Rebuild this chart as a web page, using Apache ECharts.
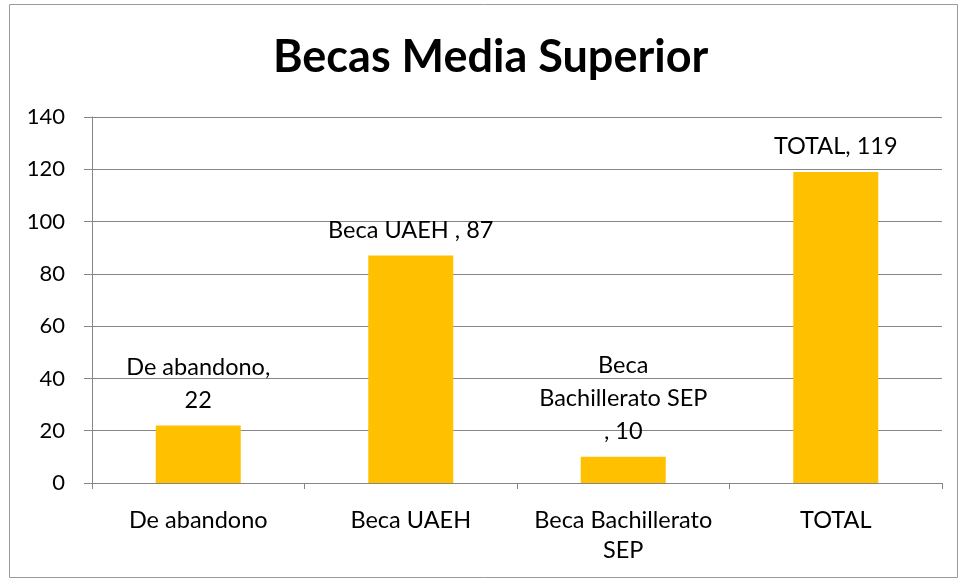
<!DOCTYPE html>
<html><head><meta charset="utf-8">
<script src="https://cdn.jsdelivr.net/npm/echarts@6/dist/echarts.min.js"></script>
<style>html,body{margin:0;padding:0;background:#fff}#c{width:960px;height:582px}</style>
</head><body><div id="c"></div>
<script>
const categories = ['De abandono', 'Beca UAEH', 'Beca Bachillerato SEP', 'TOTAL'];
const axisLabels = ['De abandono', 'Beca UAEH', 'Beca Bachillerato\nSEP', 'TOTAL'];
const dataLabels = ['De abandono,\n22', 'Beca UAEH , 87', 'Beca\nBachillerato SEP\n, 10', 'TOTAL, 119'];
const values = [22, 87, 10, 119];
const yTicks = [0, 20, 40, 60, 80, 100, 120, 140];

const font = 'Lato, "Open Sans", sans-serif';
const chart = echarts.init(document.getElementById('c'));
chart.setOption({
  animation: false,
  title: { text: 'Becas Media Superior', left: 268, top: 30,
    textStyle: { fontFamily: font, fontSize: 45, fontWeight: 'bold', color: '#000' } },
  graphic: [{ type: 'rect', shape: { x: 9.5, y: 4.5, width: 948, height: 573 },
    style: { fill: 'none', stroke: '#9a9a9a', lineWidth: 1 } }],
  grid: { left: 92, right: 18, top: 117, bottom: 99, containLabel: false },
  xAxis: {
    type: 'category', data: categories,
    axisLine: { lineStyle: { color: '#868686' } },
    axisTick: { show: true, length: 6, lineStyle: { color: '#868686' } },
    axisLabel: { formatter: (v, i) => axisLabels[i], fontFamily: font, fontSize: 23.5, color: '#000', margin: 22, lineHeight: 30, interval: 0 }
  },
  yAxis: {
    type: 'value', min: yTicks[0], max: yTicks[yTicks.length - 1], interval: 20,
    axisLine: { show: true, lineStyle: { color: '#868686' } },
    axisTick: { show: true, length: 8, lineStyle: { color: '#868686' } },
    splitLine: { lineStyle: { color: '#868686' } },
    axisLabel: { fontFamily: font, fontSize: 22, color: '#000', margin: 27 }
  },
  series: [{
    type: 'bar', data: values, barWidth: '40%',
    itemStyle: { color: '#FFC000' },
    label: { show: true, position: 'top', distance: 9,
      formatter: p => dataLabels[p.dataIndex],
      fontFamily: font, fontSize: 23.5, color: '#000', lineHeight: 33, align: 'center' }
  }]
});
</script></body></html>
